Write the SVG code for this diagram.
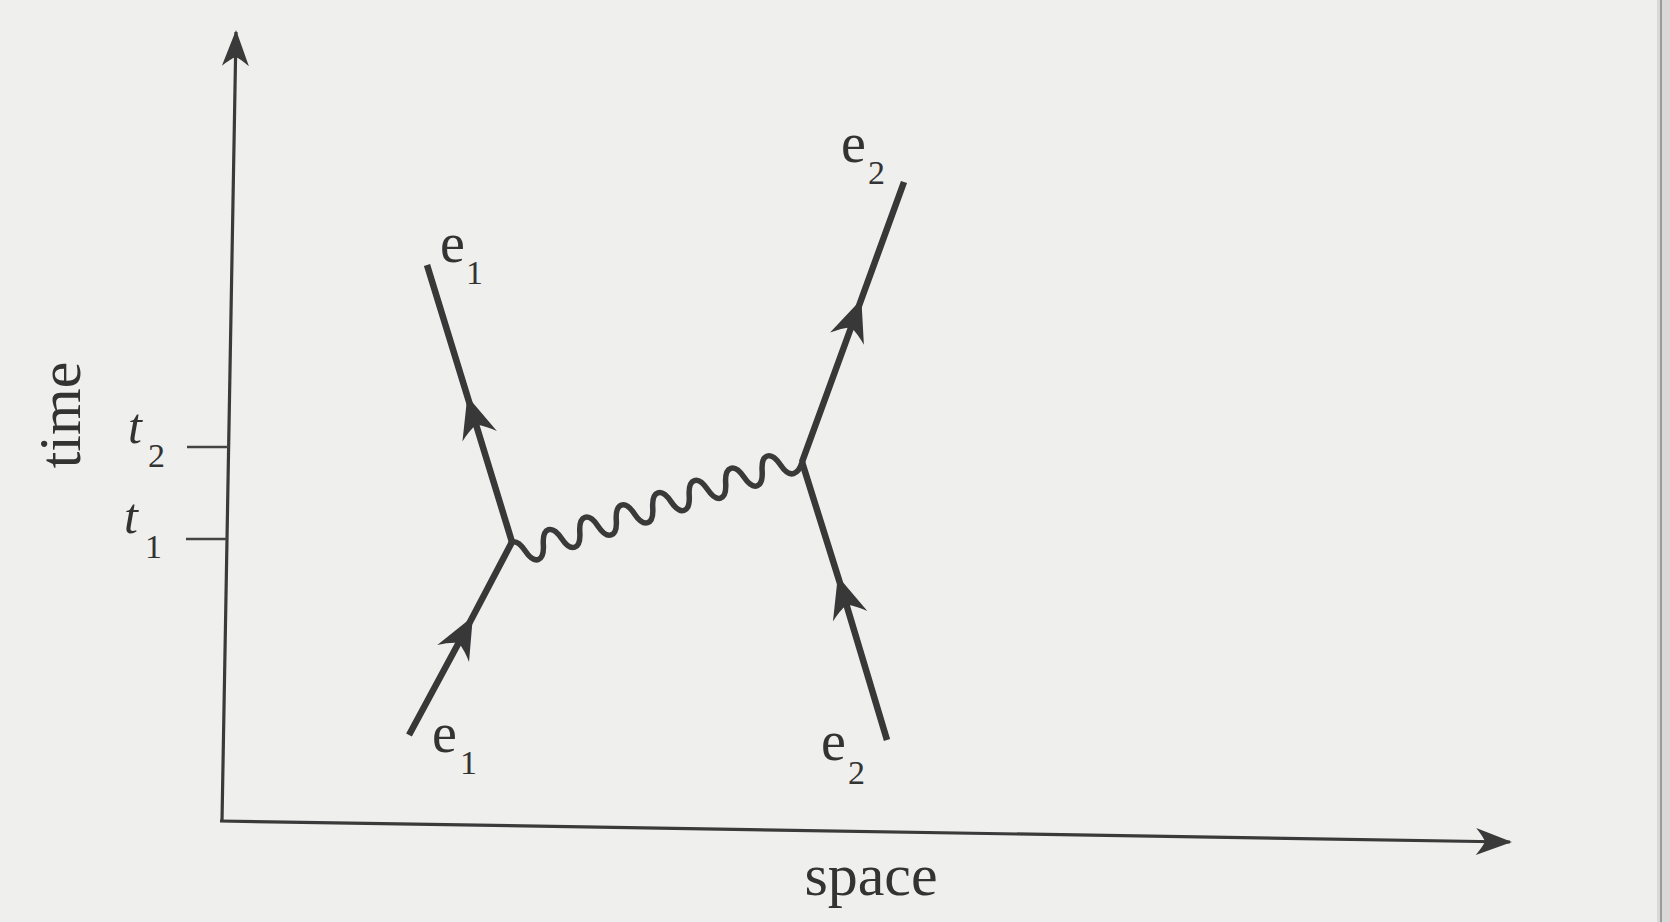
<svg xmlns="http://www.w3.org/2000/svg" width="1670" height="922" viewBox="0 0 1670 922">
<style>
.fer{fill:none;stroke:#383838;stroke-width:6.5;stroke-linecap:butt;stroke-linejoin:round;marker-mid:url(#barb)}
.ax{fill:none;stroke:#3a3a3a;stroke-width:3.2}
.tick{fill:none;stroke:#444;stroke-width:2.5}
.pho{fill:none;stroke:#3a3a3a;stroke-width:5.5;stroke-linejoin:round;stroke-linecap:round}
.lbl{font-family:"Liberation Serif","Times New Roman",serif;fill:#333}
.big{font-size:56px}
.sub{font-size:34px}
.it{font-style:italic;font-size:50px}
.ax-l{font-size:60px}
</style>
<defs>
<marker id="barb" markerUnits="userSpaceOnUse" viewBox="-45 -22 50 44" refX="0" refY="0" markerWidth="50" markerHeight="44" orient="auto" overflow="visible">
<path d="M4 0 L-38 -18 Q-30 -9 -26 0 Q-30 9 -38 18 Z" fill="#383838"/>
</marker>
<marker id="axh" markerUnits="userSpaceOnUse" viewBox="-40 -16 44 32" refX="0" refY="0" markerWidth="44" markerHeight="32" orient="auto" overflow="visible">
<path d="M2 0 L-34 -13.5 Q-27 -5 -25 0 Q-27 5 -34 13.5 Z" fill="#3a3a3a"/>
</marker>
</defs>
<rect x="0" y="0" width="1670" height="922" fill="#efefed"/>
<rect x="1657" y="0" width="13" height="922" fill="#d9d9d7"/>
<line x1="1661" y1="0" x2="1661" y2="922" stroke="#9a9a9a" stroke-width="2"/>

<g id="axes">
<line class="ax" x1="222" y1="821" x2="236" y2="32" marker-end="url(#axh)"/>
<line class="ax" x1="220" y1="821" x2="1510" y2="842" marker-end="url(#axh)"/>
<line class="tick" x1="187" y1="447" x2="229" y2="447"/>
<line class="tick" x1="186" y1="539" x2="227" y2="539"/>
</g>

<g id="axis-labels">
<text class="lbl ax-l" x="80" y="415" text-anchor="middle" transform="rotate(-90 80 415)">time</text>
<text class="lbl ax-l" x="871" y="895" text-anchor="middle">space</text>
<g id="t2"><text class="lbl it" x="128" y="443">t</text><text class="lbl sub" x="148" y="467">2</text></g>
<g id="t1"><text class="lbl it" x="124" y="533">t</text><text class="lbl sub" x="145" y="558">1</text></g>
</g>

<g id="connectors">
<path id="e1-in" class="fer" d="M409 735 L471 620 L512 542"/>
<path id="e1-out" class="fer" d="M512 542 L468.5 400 L427 265"/>
<path id="e2-in" class="fer" d="M887 740 L839 580 L802 462"/>
<path id="e2-out" class="fer" d="M802 462 L860 303 L904 182"/>
<path id="photon" class="pho" transform="translate(516 553.85) rotate(-18.62)" d="M0 -12.5
c5.29 0 7.84 5.86 9.62 12.5 c1.78 6.64 4.33 12.5 9.62 12.5
c5.29 0 7.84 -5.86 9.62 -12.5 c1.78 -6.64 4.33 -12.5 9.62 -12.5
c5.29 0 7.84 5.86 9.62 12.5 c1.78 6.64 4.33 12.5 9.62 12.5
c5.29 0 7.84 -5.86 9.62 -12.5 c1.78 -6.64 4.33 -12.5 9.62 -12.5
c5.29 0 7.84 5.86 9.62 12.5 c1.78 6.64 4.33 12.5 9.62 12.5
c5.29 0 7.84 -5.86 9.62 -12.5 c1.78 -6.64 4.33 -12.5 9.62 -12.5
c5.29 0 7.84 5.86 9.62 12.5 c1.78 6.64 4.33 12.5 9.62 12.5
c5.29 0 7.84 -5.86 9.62 -12.5 c1.78 -6.64 4.33 -12.5 9.62 -12.5
c5.29 0 7.84 5.86 9.62 12.5 c1.78 6.64 4.33 12.5 9.62 12.5
c5.29 0 7.84 -5.86 9.62 -12.5 c1.78 -6.64 4.33 -12.5 9.62 -12.5
c5.29 0 7.84 5.86 9.62 12.5 c1.78 6.64 4.33 12.5 9.62 12.5
c5.29 0 7.84 -5.86 9.62 -12.5 c1.78 -6.64 4.33 -12.5 9.62 -12.5
c5.29 0 7.84 5.86 9.62 12.5 c1.78 6.64 4.33 12.5 9.62 12.5
c5.29 0 7.84 -5.86 9.62 -12.5 c1.78 -6.64 4.33 -12.5 9.62 -12.5
c5.29 0 7.84 5.86 9.62 12.5 c1.78 6.64 4.33 12.5 9.62 12.5
c5.29 0 9 -4 11.8 -8.2"/>
</g>

<g id="label-e1-top"><text class="lbl big" x="440" y="262">e</text><text class="lbl sub" x="466" y="284">1</text></g>
<g id="label-e1-bottom"><text class="lbl big" x="432" y="752">e</text><text class="lbl sub" x="460" y="774">1</text></g>
<g id="label-e2-top"><text class="lbl big" x="841" y="162">e</text><text class="lbl sub" x="868" y="184">2</text></g>
<g id="label-e2-bottom"><text class="lbl big" x="821" y="760">e</text><text class="lbl sub" x="848" y="784">2</text></g>
</svg>
